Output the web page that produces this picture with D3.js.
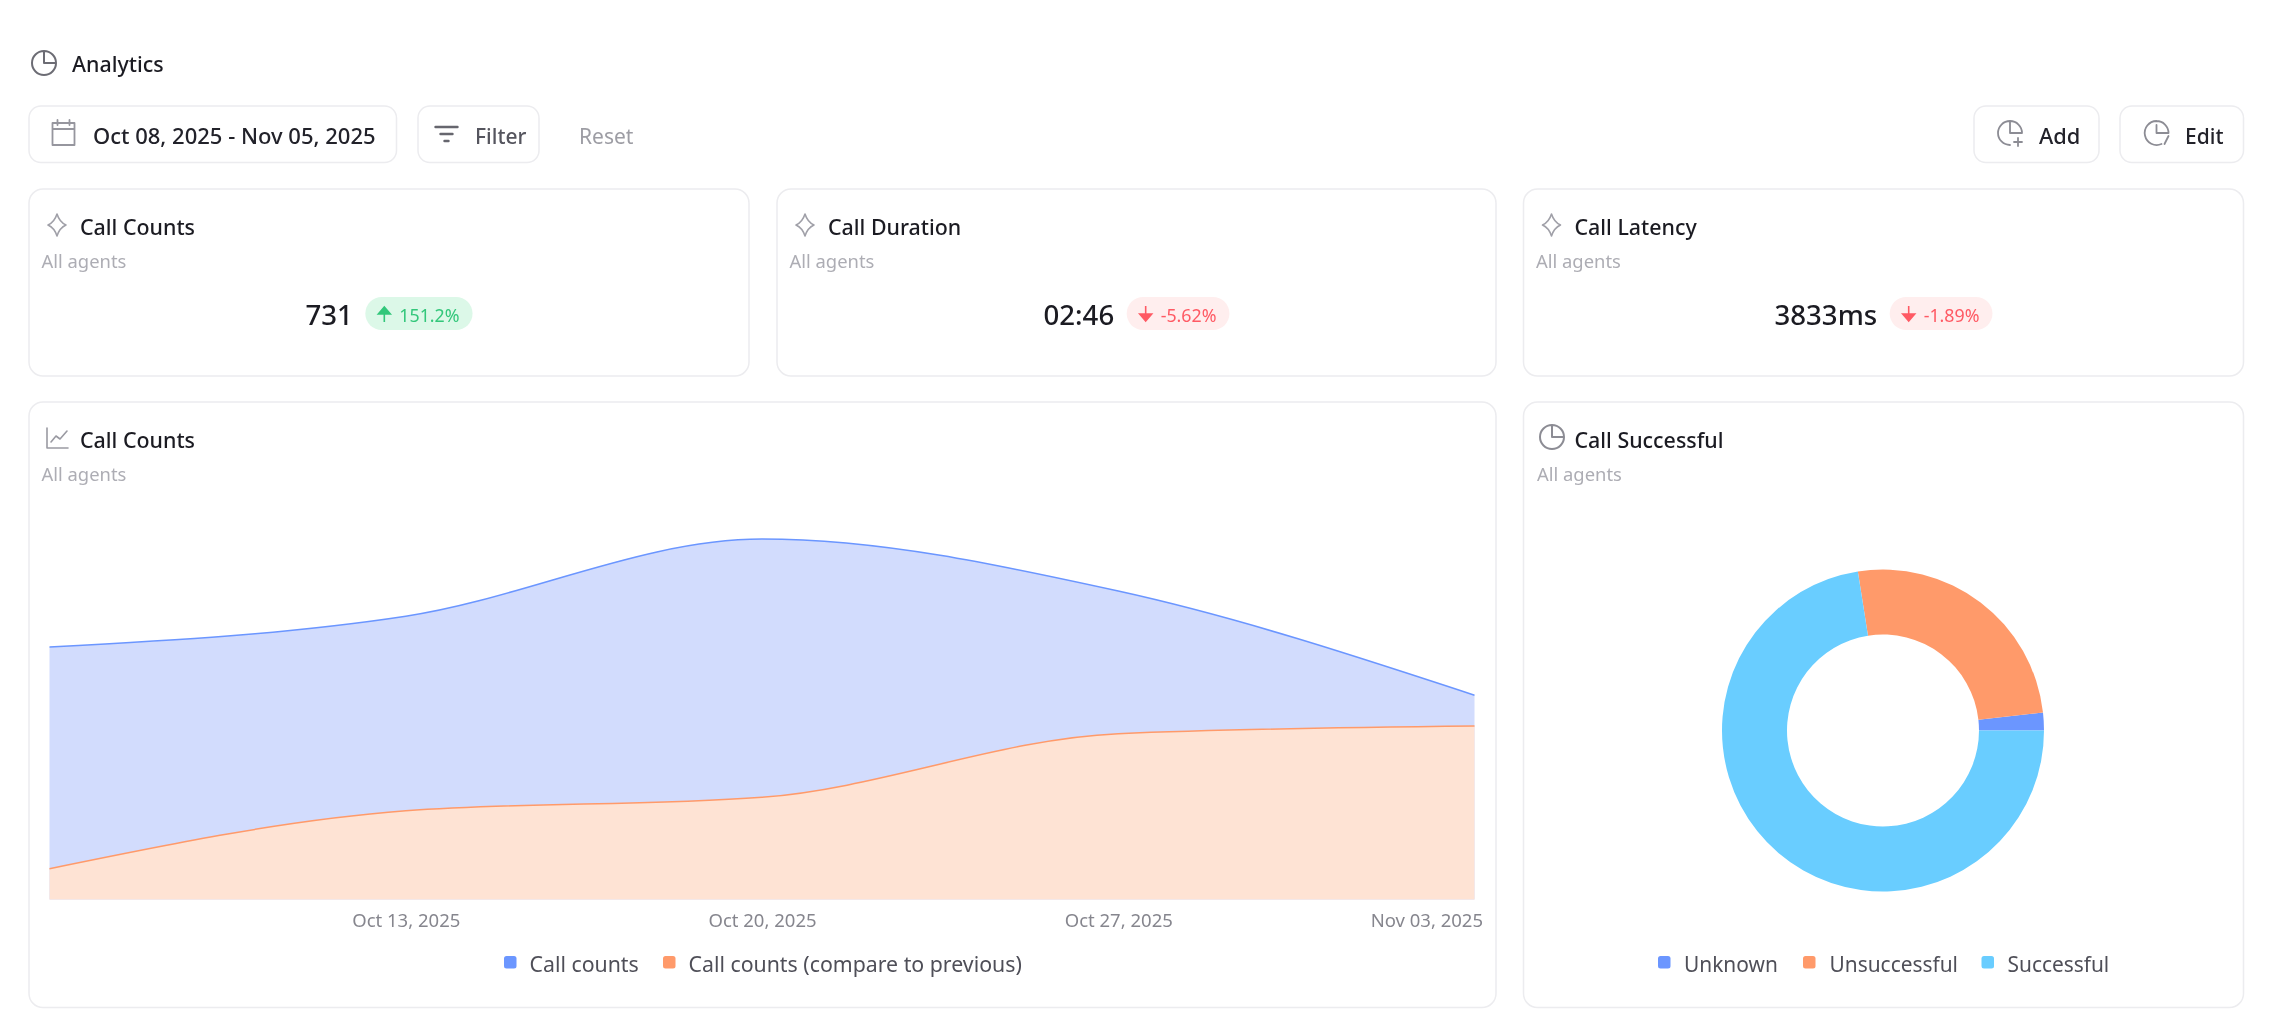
<!DOCTYPE html>
<html>
<head>
<meta charset="utf-8">
<script src="https://cdn.jsdelivr.net/npm/d3@7"></script>
<style>
  body { margin: 0; background: #fff; font-family: "Noto Sans", sans-serif; }
  /* the source is a soft, rescaled screenshot */
  svg { display: block; filter: blur(0.5px); }
  .title { font-size: 21.4px; font-weight: 500; fill: #1b1b22; }
  .sub { font-size: 18.4px; fill: #adadb4; }
  .btn-text { font-size: 21px; font-weight: 500; fill: #22222a; }
  .kpi-value { font-size: 27.6px; font-weight: 500; fill: #1b1b22; }
  .badge-text { font-size: 17.8px; }
  .legend-text { fill: #4f4f58; }
  .tick text { font-size: 18.5px; fill: #86868e; font-family: "Noto Sans", sans-serif; }
  .box { fill: #fff; stroke: #ececef; stroke-width: 1.5px; }
  .icon { fill: none; stroke-linecap: round; stroke-linejoin: round; }
</style>
</head>
<body>
<svg id="canvas" width="2269" height="1030"></svg>
<script>
// KPI cards
const kpiTitles = ["Call Counts", "Call Duration", "Call Latency"]
const kpiValues = ["731", "02:46", "3833ms"]
const kpiDeltas = ["151.2%", "-5.62%", "-1.89%"]
const kpiUp = [true, false, false]

// weekly call counts, both series add up to the KPI (731 and 291)
const weeks = ["Oct 06, 2025", "Oct 13, 2025", "Oct 20, 2025", "Oct 27, 2025", "Nov 03, 2025"]
const callCounts = [131, 147, 187, 160, 106]
const callCountsPrev = [16, 46, 53, 86, 90]

// donut
const outcomes = ["Unknown", "Unsuccessful", "Successful"]
const outcomeCounts = [13, 188, 530]

const BLUE = "#6b96ff"
const ORANGE = "#ff9a6a"
const SKY = "#69cdff"

const svg = d3.select("#canvas")

const box = (x, y, w, h, r) => svg.append("rect").attr("class", "box")
  .attr("x", x).attr("y", y).attr("width", w).attr("height", h).attr("rx", r)

const label = (cls, x, y, str) => svg.append("text").attr("class", cls).attr("x", x).attr("y", y).text(str)

const icon = (x, y, d, color, sw) => svg.append("path").attr("class", "icon")
  .attr("transform", `translate(${x},${y})`)
  .attr("d", d).attr("stroke", color || "#8c8c94").attr("stroke-width", sw || 1.8)

const pieIcon = "M0,-12 A12,12 0 1,0 12,0 A12,12 0 0,0 0,-12 V0 H12"
const sparkle = "M0,-11 Q2.6,-2.8 9,0 Q2.6,2.8 0,11 Q-2.6,2.8 -9,0 Q-2.6,-2.8 0,-11Z"

// header ----------------
icon(44, 63, pieIcon, "#6c6c74", 2)
label("title", 72, 72, "Analytics")

box(29, 106, 367.5, 56.5, 12)
icon(63.5, 133, "M-11,-10 H11 V12 H-11Z M-11,-4 H11 M-6,-13 V-8 M6,-13 V-8", "#96969e")
label("btn-text", 93, 143.5, "Oct 08, 2025 - Nov 05, 2025").style("font-size", "22px")

box(418, 106, 121, 56.5, 12)
icon(446.5, 134, "M-11,-7 H11 M-6,0 H6 M-2,7 H2", "#66666e", 2.4)
label("btn-text", 475, 143.5, "Filter").style("fill", "#55555e")
label("btn-text", 579, 143.5, "Reset").style("fill", "#9d9da4").style("font-weight", 400)

box(1974, 106, 125, 56.5, 12)
icon(2010, 133, "M0,-12 A12,12 0 1,0 0,12 M0,-12 A12,12 0 0,1 12,0 H0 V-12 M8,5 V13 M4,9 H12", "#8c8c94")
label("btn-text", 2039, 143.5, "Add").style("font-size", "21.8px")

box(2120, 106, 123.5, 56.5, 12)
icon(2156.5, 133, "M0,-12 A12,12 0 1,0 5,11 M0,-12 A12,12 0 0,1 12,0 H0 V-8 M12,3 L8,11", "#8c8c94")
label("btn-text", 2185, 143.5, "Edit")

// KPI cards ----------------
const kpiLeft = [29, 777, 1523.5]
const kpiWidth = [720, 719, 720]

kpiTitles.forEach((name, i) => {
  const x0 = kpiLeft[i]
  box(x0, 189, kpiWidth[i], 187, 14)
  icon(x0 + 28, 225, sparkle, "#a0a0a8", 1.6)
  label("title", x0 + 51, 234.5, name)
  label("sub", x0 + 12.5, 268, "All agents")

  const value = label("kpi-value", 0, 325, kpiValues[i])
  const color = kpiUp[i] ? "#33c77b" : "#ff5a64"
  const delta = label("badge-text", 0, 321.5, kpiDeltas[i]).style("fill", color)

  // value + badge are centred as one group in the card
  const valueW = value.node().getComputedTextLength()
  const deltaW = delta.node().getComputedTextLength()
  const badgeW = deltaW + 47
  const start = x0 + kpiWidth[i] / 2 - (valueW + 12.5 + badgeW) / 2
  const badgeX = start + valueW + 12.5

  value.attr("x", start)
  svg.insert("rect", "text:last-child")
    .attr("x", badgeX).attr("y", 297).attr("width", badgeW).attr("height", 33).attr("rx", 16.5)
    .attr("fill", kpiUp[i] ? "#dcf8e8" : "#ffeeee")
  delta.attr("x", badgeX + 34)
  const arrow = kpiUp[i]
    ? "M-6,0 L0,-7 L6,0 Z M0,0 V8"
    : "M-6,0 L0,7 L6,0 Z M0,0 V-8"
  svg.append("path").attr("transform", `translate(${badgeX + 19},314)`)
    .attr("d", arrow).attr("fill", color).attr("stroke", color).attr("stroke-width", 1.6)
})

// call counts area chart ----------------
box(29, 402, 1467, 605.5, 14)
icon(46, 428, "M1,0 V20 H22 M5,14 L10,8 L14,11 L21,3", "#9a9aa2", 1.6)
label("title", 80, 448, "Call Counts")
label("sub", 41.5, 481, "All agents")

const xScale = d3.scalePoint().domain(weeks).range([49.5, 1474.5])
const yScale = d3.scaleLinear().domain([0, 200]).range([899.5, 514])

const area = d3.area()
  .x((d, i) => xScale(weeks[i]))
  .y0(yScale(0))
  .y1(d => yScale(d))
  .curve(d3.curveMonotoneX)

const line = area.lineY1()

const series = [
  { values: callCounts, fill: "#d2dcfd", stroke: BLUE },
  { values: callCountsPrev, fill: "#fee3d4", stroke: ORANGE }
]

series.forEach(s => {
  svg.append("path").attr("d", area(s.values)).attr("fill", s.fill)
  svg.append("path").attr("d", line(s.values)).attr("fill", "none")
    .attr("stroke", s.stroke).attr("stroke-width", 1.5)
})

// first tick is hidden, last one is pulled in so it stays inside the card
const xAxis = d3.axisBottom(xScale).tickValues(weeks.slice(1)).tickSize(0).tickPadding(0)
const axisG = svg.append("g").attr("transform", "translate(0,910)").call(xAxis)
axisG.select(".domain").remove()
axisG.selectAll("text").attr("dy", "0.9em")
axisG.selectAll(".tick:last-of-type text").attr("text-anchor", "end").attr("x", 8)

const legend = (names, colors, xs, textXs, size) => {
  names.forEach((name, i) => {
    svg.append("rect").attr("x", xs[i]).attr("y", 956).attr("width", 12.5).attr("height", 12.5)
      .attr("rx", 2.5).attr("fill", colors[i])
    label("legend-text", textXs[i], 972, name).style("font-size", size + "px")
  })
}

legend(["Call counts", "Call counts (compare to previous)"], [BLUE, ORANGE], [504, 663], [529.5, 688.5], 21.3)

// donut ----------------
box(1523.5, 402, 720, 605.5, 14)
icon(1552, 437, pieIcon, "#8c8c94", 2)
label("title", 1574.5, 447.5, "Call Successful")
label("sub", 1537, 481, "All agents")

// starts at 3 o'clock and runs counter clockwise
const pie = d3.pie().sort(null).startAngle(Math.PI / 2).endAngle(Math.PI / 2 - 2 * Math.PI)
const arc = d3.arc().innerRadius(96).outerRadius(161)
const outcomeColor = d3.scaleOrdinal().domain(outcomes).range([BLUE, ORANGE, SKY])

svg.append("g").attr("transform", "translate(1883,730.5)")
  .selectAll("path")
  .data(pie(outcomeCounts))
  .enter().append("path")
  .attr("d", arc)
  .attr("fill", (d, i) => outcomeColor(outcomes[i]))

legend(outcomes, outcomes.map(outcomeColor), [1658, 1803, 1981.5], [1684, 1829.5, 2007.5], 20.9)
</script>
</body>
</html>
